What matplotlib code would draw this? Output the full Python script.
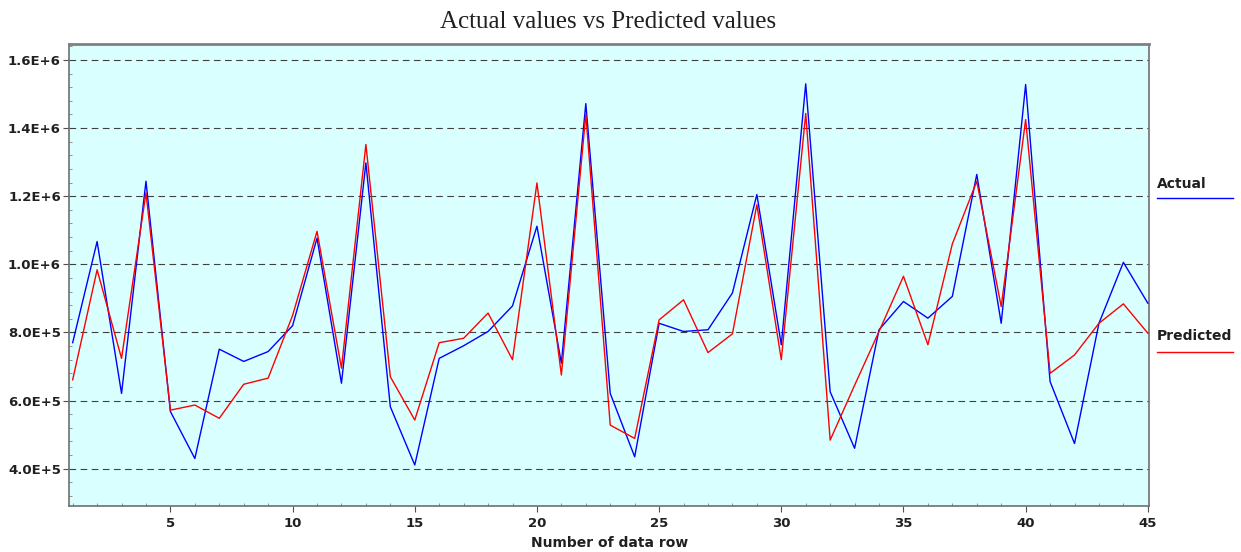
import matplotlib
matplotlib.use("Agg")
import matplotlib.pyplot as plt
from matplotlib.ticker import MultipleLocator

rows = list(range(1, 46))
actual = [770e3, 1067e3, 621e3, 1244e3, 568e3, 430e3, 751e3, 715e3, 744e3, 820e3,
          1077e3, 651e3, 1298e3, 582e3, 411e3, 724e3, 761e3, 803e3, 878e3, 1112e3,
          710e3, 1472e3, 621e3, 435e3, 827e3, 803e3, 808e3, 916e3, 1205e3, 764e3,
          1530e3, 626e3, 460e3, 808e3, 891e3, 842e3, 906e3, 1264e3, 827e3, 1528e3,
          656e3, 474e3, 827e3, 1006e3, 886e3]
predicted = [661e3, 984e3, 724e3, 1210e3, 572e3, 587e3, 548e3, 648e3, 666e3, 850e3,
             1097e3, 695e3, 1352e3, 670e3, 543e3, 770e3, 783e3, 857e3, 720e3, 1239e3,
             675e3, 1440e3, 528e3, 489e3, 837e3, 896e3, 741e3, 796e3, 1175e3, 720e3,
             1443e3, 484e3, 645e3, 803e3, 965e3, 764e3, 1060e3, 1244e3, 876e3, 1425e3,
             680e3, 734e3, 827e3, 884e3, 798e3]
y_ticks = [4e5, 6e5, 8e5, 1.0e6, 1.2e6, 1.4e6, 1.6e6]
y_tick_labels = ["4.0E+5", "6.0E+5", "8.0E+5", "1.0E+6", "1.2E+6", "1.4E+6", "1.6E+6"]
x_ticks = [5, 10, 15, 20, 25, 30, 35, 40, 45]

fig = plt.figure(figsize=(12.41, 5.52), dpi=100)
fig.patch.set_facecolor("white")
ax = fig.add_axes([0.0558, 0.0833, 0.8701, 0.837])
ax.set_facecolor("#daffff")

ax.plot(rows, actual, color="#0000ff", lw=1.0, zorder=3)
ax.plot(rows, predicted, color="#ff0000", lw=1.0, zorder=4)

ax.set_xlim(0.86, 45.05)
ax.set_ylim(2.905e5, 1.647e6)

ax.set_yticks(y_ticks)
ax.set_yticklabels(y_tick_labels)
ax.set_xticks(x_ticks)
ax.set_xticklabels([str(t) for t in x_ticks])
ax.xaxis.set_minor_locator(MultipleLocator(1))
ax.yaxis.set_minor_locator(MultipleLocator(4e4))

ax.tick_params(axis="both", which="major", direction="out", length=4, width=0.8,
               colors="#505050", labelcolor="#202020", labelsize=9.5, pad=2)
ax.tick_params(axis="x", which="major", pad=4)
ax.tick_params(axis="both", which="minor", direction="in", length=2.5, width=0.6,
               colors="#808080")
for lab in ax.get_xticklabels() + ax.get_yticklabels():
    lab.set_fontweight("bold")
    lab.set_family("DejaVu Sans")

ax.grid(True, axis="y", which="major", color="#404040", lw=0.8,
        linestyle=(0, (6, 4)), zorder=1)

for side in ["left", "right", "bottom"]:
    ax.spines[side].set_color("#707070")
    ax.spines[side].set_linewidth(1.2)
ax.spines["top"].set_color("#808080")
ax.spines["top"].set_linewidth(2.0)

ax.set_xlabel("Number of data row", fontsize=10, fontweight="bold",
              color="#202020", labelpad=4)
fig.text(0.49, 1 - 22 / 552, "Actual values vs Predicted values",
         family="Liberation Serif", fontsize=18, ha="center", va="center",
         color="#202020")

# legend entries at the right of the axes
fig.text(1157 / 1241, 1 - 184 / 552, "Actual", fontsize=10, fontweight="bold",
         va="center", ha="left", color="#202020")
fig.add_artist(plt.Line2D([1157 / 1241, 1233 / 1241], [1 - 198 / 552] * 2,
                          color="#0000ff", lw=1.0))
fig.text(1157 / 1241, 1 - 336 / 552, "Predicted", fontsize=10, fontweight="bold",
         va="center", ha="left", color="#202020")
fig.add_artist(plt.Line2D([1157 / 1241, 1233 / 1241], [1 - 352 / 552] * 2,
                          color="#ff0000", lw=1.0))

fig.savefig("out.png", dpi=100)
